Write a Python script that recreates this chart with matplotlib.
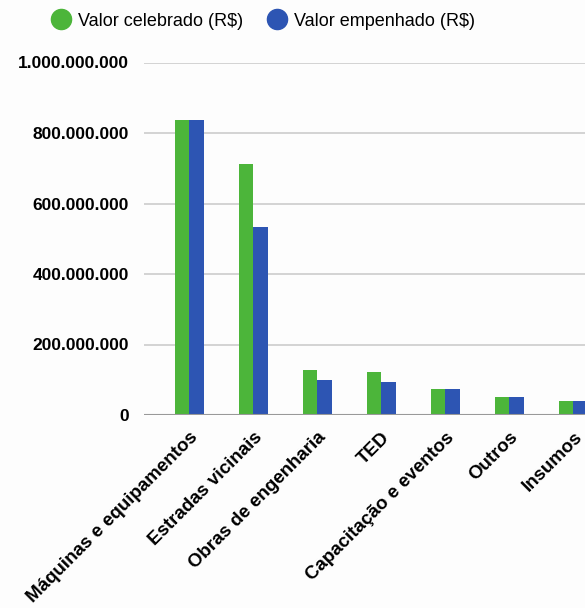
import matplotlib
matplotlib.use("Agg")

import matplotlib.pyplot as plt
from matplotlib.lines import Line2D
import numpy as np

categories = [
    "Máquinas e equipamentos",
    "Estradas vicinais",
    "Obras de engenharia",
    "TED",
    "Capacitação e eventos",
    "Outros",
    "Insumos",
]
celebrado = [837e6, 711e6, 127e6, 123e6, 74e6, 52e6, 39e6]
empenhado = [837e6, 532e6, 98e6, 93e6, 74e6, 52e6, 39e6]
yticks = [0, 200e6, 400e6, 600e6, 800e6, 1000e6]
series_labels = ["Valor celebrado (R$)", "Valor empenhado (R$)"]

GREEN = "#4cb53a"
BLUE = "#2d55b3"

plt.rcParams["font.family"] = ["Liberation Sans", "DejaVu Sans"]

fig = plt.figure(figsize=(5.85, 6.08), dpi=100)
fig.patch.set_facecolor("#fdfdfd")
ax = fig.add_axes([144 / 585, 1 - 415 / 608, 1 - 144 / 585, (415 - 62.5) / 608])
ax.set_facecolor("#fdfdfd")

x = np.arange(len(categories))
w = 0.228
ax.bar(x - w / 2, celebrado, w, color=GREEN, zorder=3)
ax.bar(x + w / 2, empenhado, w, color=BLUE, zorder=3)

ax.set_xlim(-0.708, 6.18)
ax.set_ylim(0, 1000e6)
ax.set_yticks(yticks)
ax.set_yticklabels([f"{int(v):,}".replace(",", ".") for v in yticks],
                   fontweight="bold", fontsize=12.5)
ax.yaxis.grid(True, color="#cccccc", linewidth=1.2, zorder=0)
ax.axhline(0, color="#999999", linewidth=1.5, zorder=4)
ax.tick_params(axis="y", length=0, pad=11)
ax.tick_params(axis="x", length=0, pad=10)
for s in ax.spines.values():
    s.set_visible(False)

ax.set_xticks(x)
ax.set_xticklabels(categories, rotation=45, ha="right", va="top",
                   rotation_mode="anchor", fontweight="bold", fontsize=13.5)

handles = [Line2D([], [], marker="o", linestyle="", markersize=14.5,
                  markerfacecolor=c, markeredgecolor=c) for c in (GREEN, BLUE)]
fig.legend(handles, series_labels, loc="center left",
           bbox_to_anchor=(53.8 / 585, 1 - 21 / 608), ncol=2, frameon=False,
           fontsize=13, handlelength=0.8, handletextpad=0.55,
           columnspacing=1.45, borderaxespad=0, borderpad=0)

plt.savefig("out.png", dpi=100, facecolor=fig.get_facecolor())
plt.close()
